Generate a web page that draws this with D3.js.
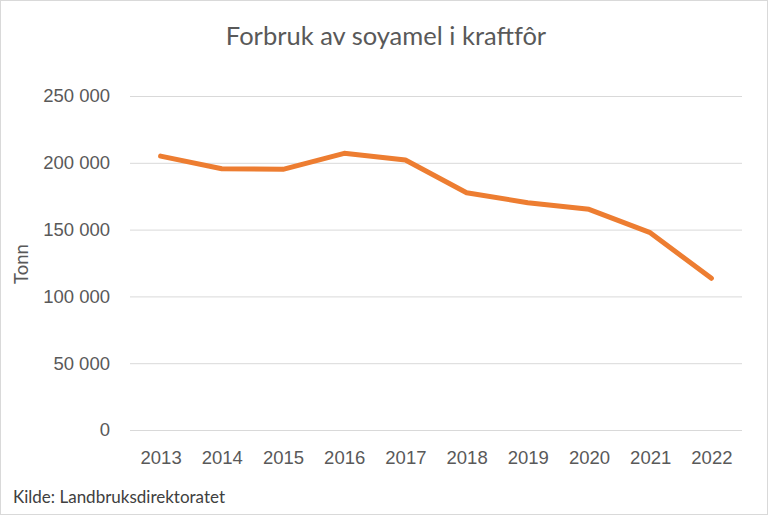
<!DOCTYPE html>
<html><head><meta charset="utf-8">
<script src="https://cdn.jsdelivr.net/npm/d3@7"></script>
<style>
html,body{margin:0;padding:0;background:#fff;}
svg{display:block;font-family:Lato,"Open Sans",sans-serif;}
</style></head>
<body><svg id="c" width="768" height="515"></svg>
<script>
const years = ["2013","2014","2015","2016","2017","2018","2019","2020","2021","2022"];
const values = [205000,195600,195100,207100,202100,177600,170100,165200,147700,113500];
const yTicks = [0,50000,100000,150000,200000,250000];
const title = "Forbruk av soyamel i kraftfôr";
const yLabel = "Tonn";
const source = "Kilde: Landbruksdirektoratet";

const svg = d3.select("#c");
const W = 768, H = 515;
const m = {left:130, right:742, top:96, bottom:430};
const grey = "#595959";

svg.append("rect").attr("x",0.5).attr("y",0.5).attr("width",W-1).attr("height",H-1)
  .attr("fill","#fff").attr("stroke","#d9d9d9");

const x = d3.scalePoint().domain(years).range([m.left, m.right]).padding(0.5);
const y = d3.scaleLinear().domain([0,250000]).range([m.bottom, m.top]);

const fmt = v => d3.format(",")(v).replace(/,/g, "\u00a0");

const ya = svg.append("g").attr("transform",`translate(${m.left},0)`)
  .call(d3.axisLeft(y).tickValues(yTicks).tickSize(-(m.right-m.left)).tickFormat(fmt));
ya.select(".domain").remove();
ya.selectAll(".tick line").attr("stroke","#d9d9d9").attr("stroke-width",1);
ya.selectAll(".tick text").attr("x",-20).attr("fill",grey).attr("font-size",18.5);

const xa = svg.append("g").attr("transform",`translate(0,${m.bottom})`)
  .call(d3.axisBottom(x).tickSize(0));
xa.select(".domain").remove();
xa.selectAll(".tick text").attr("dy",0).attr("y",34).attr("fill",grey).attr("font-size",18.5);

svg.append("path").datum(values.map((v,i)=>[years[i],v]))
  .attr("fill","none").attr("stroke","#ED7D31").attr("stroke-width",5)
  .attr("stroke-linecap","round").attr("stroke-linejoin","round")
  .attr("d", d3.line().x(d=>x(d[0])).y(d=>y(d[1])));

svg.append("text").attr("x",386).attr("y",45).attr("text-anchor","middle")
  .attr("fill",grey).attr("font-size",25.5).text(title);

svg.append("text").attr("transform","translate(28,264) rotate(-90)").attr("text-anchor","middle")
  .attr("fill",grey).attr("font-size",18.5).text(yLabel);

svg.append("text").attr("x",13).attr("y",503).attr("fill","#404040").attr("font-size",17).text(source);
</script></body></html>
